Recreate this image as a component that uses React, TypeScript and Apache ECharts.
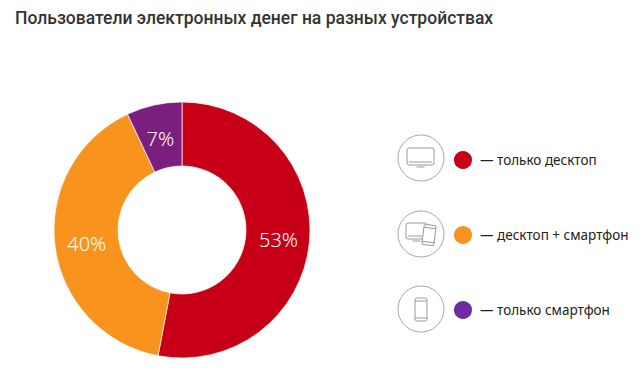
import React, { useEffect, useRef } from "react";
import * as echarts from "echarts";

const titleText = "Пользователи электронных денег на разных устройствах";
const categories = ["только десктоп", "десктоп + смартфон", "только смартфон"];
const values = [53, 40, 7];
const sliceColors = ["#c70017", "#f8931d", "#7b1e7e"];
const legendColors = ["#c70017", "#f8931d", "#6e2ca0"];
const labelShiftX = [-2, 3, 0];
const labelShiftY = [0, 1, 5];
const FONT = "Noto Sans";
const ICON = "#9a9a9a";

const line = { stroke: ICON, fill: "#fff", lineWidth: 1 };
const thin = { stroke: ICON, lineWidth: 1 };

function monitor(x: number, y: number, w: number, h: number) {
  return [
    { type: "rect", shape: { x, y, width: w, height: h, r: 2 }, style: line },
    { type: "line", shape: { x1: x + 2, y1: y + h - 3, x2: x + w - 2, y2: y + h - 3 }, style: thin },
    { type: "line", shape: { x1: x + w / 2 - 4, y1: y + h + 2, x2: x + w / 2 + 4, y2: y + h + 2 }, style: thin },
  ];
}

function phone(x: number, y: number, w: number, h: number, rotation = 0) {
  const cx = x + w / 2;
  const cy = y + h / 2;
  return [
    {
      type: "group",
      x: cx,
      y: cy,
      rotation,
      children: [
        { type: "rect", shape: { x: -w / 2, y: -h / 2, width: w, height: h, r: 2 }, style: line },
        { type: "line", shape: { x1: -w / 2, y1: -h / 2 + 3, x2: w / 2, y2: -h / 2 + 3 }, style: thin },
        { type: "line", shape: { x1: -w / 2, y1: h / 2 - 3, x2: w / 2, y2: h / 2 - 3 }, style: thin },
      ],
    },
  ];
}

const ring = (cy: number) => ({
  type: "circle",
  shape: { cx: 421, cy, r: 23 },
  style: { stroke: "#a8a8a8", fill: "#fff", lineWidth: 1 },
});

export default function App() {
  const ref = useRef<HTMLDivElement>(null);
  useEffect(() => {
    const chart = echarts.init(ref.current!, undefined, { renderer: "svg" });
    chart.setOption({
      animation: false,
      backgroundColor: "#fff",
      title: {
        text: titleText,
        left: 10,
        top: 4,
        textStyle: { fontFamily: "Roboto", fontSize: 17.5, fontWeight: 500, color: "#333" },
      },
      legend: {
        orient: "vertical",
        left: 447,
        top: 144,
        itemWidth: 20,
        itemHeight: 20,
        itemGap: 53,
        icon: "circle",
        selectedMode: false,
        data: categories.map((name, i) => ({ name, itemStyle: { color: legendColors[i] } })),
        formatter: (n: string) => "— " + n,
        textStyle: { fontFamily: FONT, fontSize: 13.5, color: "#222", padding: [0, 0, 0, 2] },
      },
      graphic: [
        ring(158),
        ring(234),
        ring(309),
        ...monitor(407, 148, 27, 17),
        ...monitor(406, 223, 21, 16),
        ...phone(423, 225, 12, 20, -0.12),
        ...phone(415, 298, 12, 23),
      ],
      series: [
        {
          type: "pie",
          center: [182, 230],
          radius: [64, 128],
          startAngle: 90,
          clockwise: true,
          data: categories.map((name, i) => ({
            name,
            value: values[i],
            itemStyle: { color: sliceColors[i], borderColor: "#fff", borderWidth: 0.7 },
          })),
          label: {
            show: true,
            position: "inside",
            formatter: "{c}%",
            color: "#fff",
            fontFamily: FONT,
            fontSize: 20,
            fontWeight: 300,
          },
          labelLayout: (p: any) => ({ dx: labelShiftX[p.dataIndex], dy: labelShiftY[p.dataIndex] }),
          labelLine: { show: false },
          emphasis: { disabled: true },
        },
      ],
    });
    return () => chart.dispose();
  }, []);
  return (
    <div
      ref={ref}
      style={{ position: "fixed", left: 0, top: 0, width: 644, height: 376 }}
    />
  );
}
